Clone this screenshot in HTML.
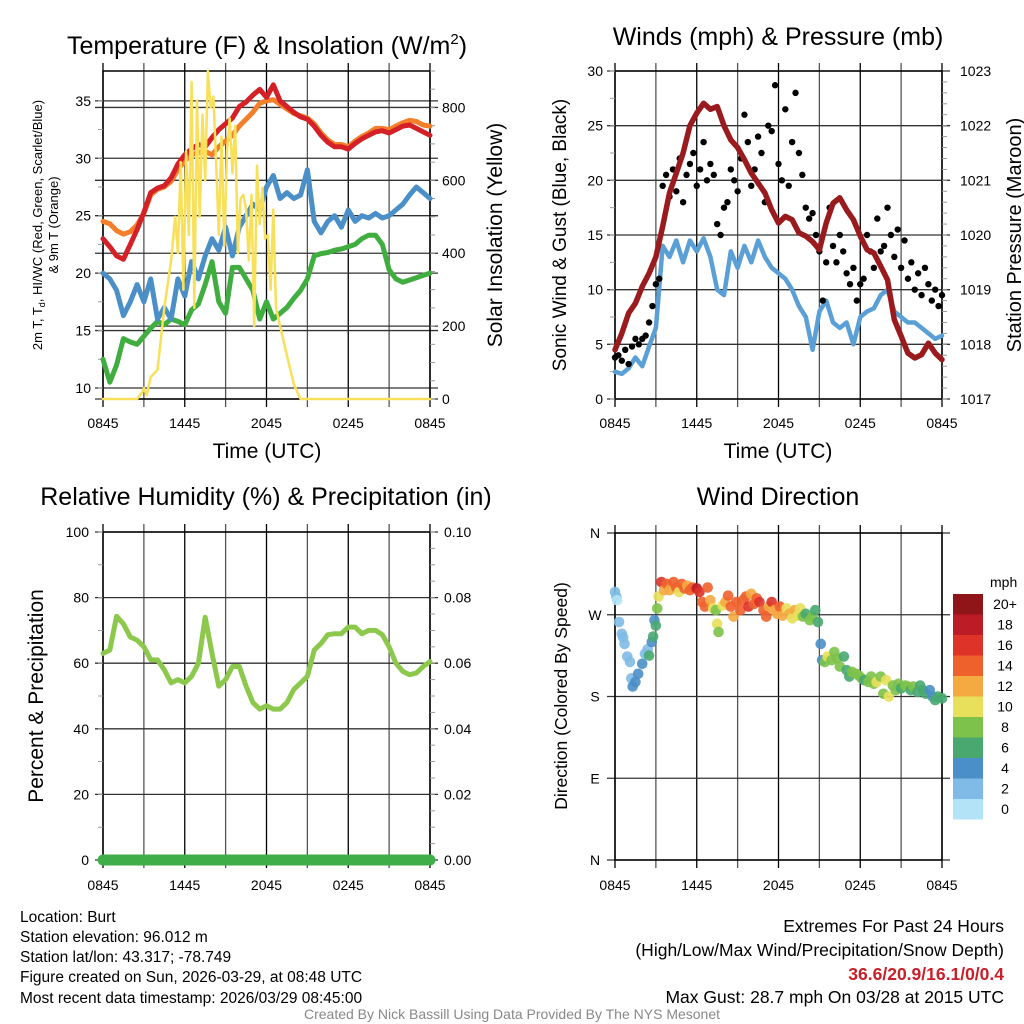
<!DOCTYPE html>
<html><head><meta charset="utf-8"><style>
html,body{margin:0;padding:0;background:#fff;}
svg{display:block;font-family:"Liberation Sans",sans-serif;}
</style></head><body>
<svg id="fig" width="1024" height="1024" viewBox="0 0 1024 1024">
<g id="g1"></g>
<g id="g2"></g>
<g id="g3"></g>
<g id="g4"></g>
<text x="267" y="54" text-anchor="middle" font-size="25">Temperature (F) &amp; Insolation (W/m<tspan font-size="15" dy="-10">2</tspan><tspan dy="10">)</tspan></text>
<text x="778" y="45" text-anchor="middle" font-size="25">Winds (mph) &amp; Pressure (mb)</text>
<text x="266" y="505" text-anchor="middle" font-size="25">Relative Humidity (%) &amp; Precipitation (in)</text>
<text x="778" y="505" text-anchor="middle" font-size="25">Wind Direction</text>
<text x="267" y="458" text-anchor="middle" font-size="21">Time (UTC)</text>
<text x="778" y="458" text-anchor="middle" font-size="21">Time (UTC)</text>
<g font-size="13" text-anchor="middle">
<text transform="translate(42,225) rotate(-90)">2m T, T<tspan font-size="9" dy="3">d</tspan><tspan dy="-3">, HI/WC (Red, Green, Scarlet/Blue)</tspan></text>
<text transform="translate(58,225) rotate(-90)">&amp; 9m T (Orange)</text>
</g>
<text transform="translate(502,235) rotate(-90)" text-anchor="middle" font-size="21">Solar Insolation (Yellow)</text>
<text transform="translate(566,235) rotate(-90)" text-anchor="middle" font-size="19">Sonic Wind &amp; Gust (Blue, Black)</text>
<text transform="translate(1021,235) rotate(-90)" text-anchor="middle" font-size="20">Station Pressure (Maroon)</text>
<text transform="translate(43,696) rotate(-90)" text-anchor="middle" font-size="21">Percent &amp; Precipitation</text>
<text transform="translate(567,696) rotate(-90)" text-anchor="middle" font-size="17.5">Direction (Colored By Speed)</text>
<g font-size="15.5">
<text x="20" y="922">Location: Burt</text>
<text x="20" y="942">Station elevation: 96.012 m</text>
<text x="20" y="962">Station lat/lon: 43.317; -78.749</text>
<text x="20" y="982">Figure created on Sun, 2026-03-29, at 08:48 UTC</text>
<text x="20" y="1003">Most recent data timestamp: 2026/03/29 08:45:00</text>
</g>
<g font-size="17.5" text-anchor="end">
<text x="1004" y="932">Extremes For Past 24 Hours</text>
<text x="1004" y="956">(High/Low/Max Wind/Precipitation/Snow Depth)</text>
<text x="1004" y="980" fill="#c8202a" font-weight="bold">36.6/20.9/16.1/0/0.4</text>
<text x="1004" y="1003">Max Gust: 28.7 mph On 03/28 at 2015 UTC</text>
</g>
<text x="512" y="1019" text-anchor="middle" font-size="14" fill="#888">Created By Nick Bassill Using Data Provided By The NYS Mesonet</text>
</svg>
<script>
// ---- data (half-hourly, 0 = 0845 UTC) ----
const xTickLabels = ["0845","1445","2045","0245","0845"];
const tempRed = [23,22.3,21.5,21.2,22.5,23.8,25.3,27.0,27.4,27.6,28.3,29.5,30.3,30.8,31.2,31.0,31.8,32.5,33.0,33.5,34.5,34.9,35.5,36.0,35.3,36.4,35.0,34.5,34.0,33.6,33.4,32.8,32.0,31.4,31.0,31.0,30.8,31.3,31.7,32.0,32.3,32.4,32.2,32.5,32.8,32.9,32.6,32.3,32.0];
const tempOrange = [24.5,24.3,23.7,23.4,23.6,24.2,25.2,26.8,27.3,27.5,28.0,29.0,29.8,30.3,30.5,30.6,30.3,31.0,31.5,32.0,32.8,33.4,34.0,34.8,35.0,35.1,34.7,34.3,33.9,33.7,33.5,33.0,32.2,31.6,31.2,31.2,31.0,31.5,31.9,32.2,32.6,32.6,32.5,32.8,33.1,33.3,33.2,32.9,32.8];
const tempBlue = [20.0,19.5,18.5,16.3,17.5,19.0,17.5,19.5,16.0,17.0,16.0,19.5,18.0,21.0,19.5,21.5,23.0,22.0,24.0,21.5,24.0,25.0,26.0,25.5,27.5,28.5,26.5,27.0,26.5,26.8,29.0,24.5,23.5,24.5,25.0,24.0,25.5,24.5,25.0,24.8,25.2,24.8,25.0,25.5,26.0,26.8,27.5,27.0,26.5];
const tempGreen = [12.5,10.5,12.0,14.3,14.0,13.8,14.5,15.2,15.8,15.5,16.0,15.8,15.5,16.8,17.3,19.0,21.0,17.5,16.5,20.5,20.5,19.5,18.5,16.0,17.5,16.0,16.5,17.0,17.8,18.5,19.5,21.5,21.7,21.8,22.0,22.1,22.3,22.5,23.0,23.3,23.3,22.5,20.3,19.5,19.2,19.4,19.6,19.8,20.0];
const tempTicks = [10,15,20,25,30,35];
const solarTicks = [0,200,400,600,800];
const solarTimes = [0,2.5,2.9,3.0,3.2,3.5,4.0,4.5,5.0,5.3,5.5,5.7,5.9,6.1,6.3,6.5,6.7,6.9,7.1,7.3,7.5,7.7,7.9,8.1,8.3,8.5,8.7,8.9,9.1,9.3,9.5,9.7,9.9,10.1,10.3,10.5,10.7,10.9,11.1,11.3,11.5,11.7,11.9,12.1,12.3,12.5,12.7,13.0,13.5,14.0,14.5,24];
const solarValues = [0,0,20,30,10,60,80,250,380,500,400,650,300,680,450,870,250,820,500,780,600,900,800,830,650,450,720,420,680,770,620,750,400,550,560,520,380,560,200,640,480,580,440,450,300,520,250,200,120,40,0,0];
const windSpeed = [2.5,2.3,2.8,3.8,3.0,4.8,6.5,14.0,13.0,14.5,12.5,14.5,13.5,14.7,13.0,10.0,9.5,13.5,12.0,14.0,12.5,14.5,13.0,12.0,11.5,11.0,10.0,8.5,7.5,4.5,8.0,9.0,7.0,6.5,7.0,5.0,7.5,8.0,8.3,9.5,10.0,8.0,7.5,7.0,7.0,6.5,6.0,5.5,5.8];
const pressure = [1017.9,1018.2,1018.57,1018.75,1019.06,1019.3,1019.6,1020.16,1020.77,1021.13,1021.5,1022.0,1022.23,1022.41,1022.3,1022.35,1022.0,1021.74,1021.6,1021.38,1021.13,1020.95,1020.77,1020.46,1020.22,1020.34,1020.28,1020.04,1019.98,1019.88,1019.73,1020.22,1020.58,1020.68,1020.46,1020.28,1019.98,1019.73,1019.67,1019.43,1019.18,1018.45,1018.15,1017.84,1017.75,1017.81,1018.02,1017.84,1017.72];
const gusts = [3.8,4.0,3.5,4.5,3.2,4.8,5.5,5.0,5.5,5.8,7.0,8.5,10.5,11.0,19.5,20.5,18.5,21.0,19.0,22.0,18.0,20.5,21.5,22.5,19.5,21.0,23.5,20.0,21.5,20.5,16.0,15.0,17.5,18.0,21.0,20.0,19.0,22.0,26.0,23.5,19.5,21.0,24.0,22.5,18.0,25.0,24.5,28.7,21.5,20.0,26.5,19.5,23.5,28.0,22.5,20.5,17.5,16.5,17.0,15.0,13.5,9.0,12.5,17.5,14.0,12.5,15.0,13.5,11.5,10.5,12.0,9.0,10.5,11.0,15.0,13.5,12.0,16.5,13.5,14.0,17.5,15.0,13.0,15.5,12.0,14.5,11.0,12.5,10.0,11.5,9.5,12.0,10.5,9.0,10.0,8.5,9.5];
const windTicks = [0,5,10,15,20,25,30];
const pressureTicks = [1017,1018,1019,1020,1021,1022,1023];
const humidity = [63,64,74.3,72,68,67,65,61,61,58,54,55,54,56,60,74,63,53,55,59,59,53,48,46,47,46,46,48,52,54,56,64,66,68.7,69,69,71,71,69,70,70,68.7,65,60,57.5,56.5,57,59,60.5];
const precip = [0,0,0,0,0,0,0,0,0,0,0,0,0,0,0,0,0,0,0,0,0,0,0,0,0];
const rhTicks = [0,20,40,60,80,100];
const precipTicks = ["0.00","0.02","0.04","0.06","0.08","0.10"];
const dirTimes = [0.0,0.1,0.15,0.3,0.5,0.6,0.7,0.9,1.1,1.2,1.3,1.5,1.7,2.0,2.2,2.4,2.5,2.7,2.8,2.9,3.0,3.1,3.2,3.4,3.6,3.8,4.0,4.3,4.5,4.7,4.9,5.1,5.3,5.5,5.7,6.0,6.2,6.4,6.6,6.8,7.0,7.2,7.4,7.5,7.6,7.9,8.1,8.3,8.5,8.7,8.9,9.2,9.4,9.6,9.8,10.0,10.2,10.4,10.6,10.9,11.1,11.3,11.5,11.7,11.9,12.1,12.3,12.6,12.8,13.0,13.2,13.4,13.6,13.8,14.0,14.3,14.5,14.7,14.9,15.1,15.2,15.4,15.6,15.9,16.1,16.3,16.5,16.8,17.0,17.2,17.4,17.7,17.9,18.1,18.3,18.6,18.8,19.0,19.2,19.5,19.7,19.9,20.1,20.4,20.6,20.8,21.0,21.3,21.5,21.7,21.9,22.2,22.4,22.6,22.8,23.1,23.3,23.5,23.7,24.0];
const dirValues = [295,290,286,262,249,245,238,224,218,200,191,196,205,216,227,232,225,240,246,264,258,277,290,306,297,304,297,306,300,295,304,299,302,297,300,299,295,284,279,300,286,277,275,260,251,280,284,291,279,268,284,275,286,290,279,293,282,288,284,275,268,279,284,275,271,279,269,277,271,266,275,269,277,268,271,264,268,275,262,238,220,218,224,220,229,222,213,224,209,202,207,205,203,200,198,196,202,194,196,202,183,198,180,192,187,194,189,192,191,187,191,185,192,187,183,187,180,176,180,178];
const dirSpeeds = [2,2,1,2,2,2,2,2,2,2,4,4,4,4,3,2,6,4,6,4,6,8,10,16,12,14,12,14,14,10,14,14,12,14,14,18,16,14,14,14,12,10,8,10,8,10,12,14,14,12,14,14,14,14,16,12,14,14,16,14,14,12,16,12,12,14,12,10,12,10,12,10,10,8,6,8,8,6,6,4,4,8,10,8,8,8,8,6,6,6,8,8,8,8,6,8,8,8,10,8,8,10,10,8,8,8,6,8,8,6,8,6,6,6,6,4,4,6,6,6];
const dirTicks = ["N","W","S","E","N"];
const speedBins = ["20+","18","16","14","12","10","8","6","4","2","0"];
const speedColors = ["#8f1518","#bc1c25","#dd3329","#ef612c","#f5a941","#e8e05a","#7dc24a","#48a870","#4a8fc7","#7fbbe6","#b3e3f7"];

const NS="http://www.w3.org/2000/svg";
function mk(parent,tag,attrs){const e=document.createElementNS(NS,tag);for(const k in attrs)e.setAttribute(k,attrs[k]);parent.appendChild(e);return e;}
function scale(d0,d1,r0,r1){return v=>r0+(v-d0)*(r1-r0)/(d1-d0);}

function frame(g,L,R,T,B,xs,hLines){
  for(let h=0;h<=24;h+=3){const x=xs(h);
    const l=mk(g,'line',{x1:x,x2:x,y1:T-8,y2:B+8,stroke:h%6===0?'#000':'#555','stroke-width':1.3});
    
    }
  hLines.forEach(y=>{const l=mk(g,'line',{x1:L-8,x2:R+8,y1:y,y2:y,stroke:'#333','stroke-width':1.3});
    
    });
  const r=mk(g,'rect',{x:L,y:T,width:R-L,height:B-T,fill:'none',stroke:'#000','stroke-width':1.5});
  
  
}
function xLabels(g,xs,y){xTickLabels.forEach((s,i)=>{const t=mk(g,'text',{x:xs(i*6),y:y,'text-anchor':'middle','font-size':14});t.textContent=s;
  
  });}
function line(g,pts,color,w,name){const p=mk(g,'polyline',{points:pts.map(q=>q[0].toFixed(1)+','+q[1].toFixed(1)).join(' '),fill:'none',stroke:color,'stroke-width':w,'stroke-linejoin':'round','stroke-linecap':'round'});
  
  return p;}
function yLabel(g,x,y,s,anchor,name){const t=mk(g,'text',{x:x,y:y+5,'text-anchor':anchor,'font-size':14});t.textContent=s;
  
  }
function minor(g,x,ys,dir){ys.forEach(y=>{const l=mk(g,'line',{x1:x,x2:x+dir*5,y1:y,y2:y,stroke:'#999','stroke-width':1});
  
  });}

// ---- Panel 1 ----
(function(){const g=document.getElementById('g1');const L=103,R=430,T=71,B=399;
 const xs=scale(0,24,L,R), ys=scale(9.04,37.6,B,T), ss=scale(0,900,B,T);
 frame(g,L,R,T,B,xs,tempTicks.map(ys).concat(solarTicks.map(ss)));
 const m=[];for(let v=10;v<=37;v+=2.5)m.push(ys(v));minor(g,L,m,-1);
 const m2=[];for(let v=0;v<=900;v+=50)m2.push(ss(v));minor(g,R,m2,1);
 line(g,tempGreen.map((v,i)=>[xs(i*0.5),ys(v)]),'#3fae3f',5,'dewpoint-line');
 line(g,tempBlue.map((v,i)=>[xs(i*0.5),ys(v)]),'#4a8fc7',5,'windchill-line');
 line(g,tempOrange.map((v,i)=>[xs(i*0.5),ys(v)]),'#f47f2a',5,'temp-9m-line');
 line(g,tempRed.map((v,i)=>[xs(i*0.5),ys(v)]),'#d42027',5,'temp-2m-line');
 line(g,solarValues.map((v,i)=>[xs(solarTimes[i]),ss(v)]),'#f9e05a',2.5,'solar-line');
 tempTicks.forEach(v=>yLabel(g,L-12,ys(v),String(v),'end','temp-tick-label'));
 solarTicks.forEach(v=>yLabel(g,R+12,ss(v),String(v),'start','solar-tick-label'));
 xLabels(g,xs,428);})();

// ---- Panel 2 ----
(function(){const g=document.getElementById('g2');const L=615,R=942,T=71,B=399;
 const xs=scale(0,24,L,R), ys=scale(0,30,B,T), ps=scale(1017,1023,B,T);
 frame(g,L,R,T,B,xs,windTicks.map(ys));
 const m=[];for(let v=0;v<=30;v+=2.5)m.push(ys(v));minor(g,L,m,-1);
 const m2=[];for(let v=1017;v<=1023;v+=0.2)m2.push(ps(v));minor(g,R,m2,1);
 line(g,windSpeed.map((v,i)=>[xs(i*0.5),ys(v)]),'#5a9fd6',4.5,'wind-speed-line');
 gusts.forEach((v,i)=>{const c=mk(g,'circle',{cx:xs(i*0.25),cy:ys(v),r:3.2,fill:'#000'});
   
   });
 line(g,pressure.map((v,i)=>[xs(i*0.5),ps(v)]),'#9a1b1e',5.5,'pressure-line');
 windTicks.forEach(v=>yLabel(g,L-12,ys(v),String(v),'end','wind-tick-label'));
 pressureTicks.forEach(v=>yLabel(g,R+18,ps(v),String(v),'start','pressure-tick-label'));
 xLabels(g,xs,428);})();

// ---- Panel 3 ----
(function(){const g=document.getElementById('g3');const L=103,R=430,T=532,B=860;
 const xs=scale(0,24,L,R), ys=scale(0,100,B,T), ps=scale(0,0.1,B,T);
 frame(g,L,R,T,B,xs,rhTicks.map(ys));
 const m=[];for(let v=0;v<=100;v+=10)m.push(ys(v));minor(g,L,m,-1);
 const m2=[];for(let v=0;v<=100;v+=5)m2.push(ys(v));minor(g,R,m2,1);
 line(g,humidity.map((v,i)=>[xs(i*0.5),ys(v)]),'#8cc84b',5,'humidity-line');
 line(g,precip.map((v,i)=>[xs(i),ps(v)]),'#3fae49',11,'precip-line');
 rhTicks.forEach(v=>yLabel(g,L-14,ys(v),String(v),'end','rh-tick-label'));
 precipTicks.forEach((s,i)=>yLabel(g,R+14,ps(i*0.02),s,'start','precip-tick-label'));
 xLabels(g,xs,890);})();

// ---- Panel 4 ----
(function(){const g=document.getElementById('g4');const L=615,R=942,T=533,B=860;
 const xs=scale(0,24,L,R), ds=scale(0,360,B,T);
 frame(g,L,R,T,B,xs,[0,90,180,270,360].map(ds));
 dirTicks.forEach((s,i)=>yLabel(g,L-20,ds(360-i*90),s,'middle','direction-tick-label'));
 function col(s){let k=Math.floor(s/2);if(k>10)k=10;return speedColors[10-k];}
 dirValues.forEach((v,i)=>{const c=mk(g,'circle',{cx:xs(dirTimes[i]),cy:ds(v),r:5.3,fill:col(dirSpeeds[i]),'fill-opacity':0.9});
   
   });
 xLabels(g,xs,890);
 const t=mk(g,'text',{x:990,y:587,'font-size':14});t.textContent='mph';
 
 
 speedBins.forEach((s,i)=>{const y=594+i*20.5;
   const r=mk(g,'rect',{x:953,y:y,width:30,height:20.5,fill:speedColors[i]});
   
   
   const tx=mk(g,'text',{x:1005,y:y+15,'text-anchor':'middle','font-size':14});tx.textContent=s;
   
   });
})();
</script>
</body></html>
